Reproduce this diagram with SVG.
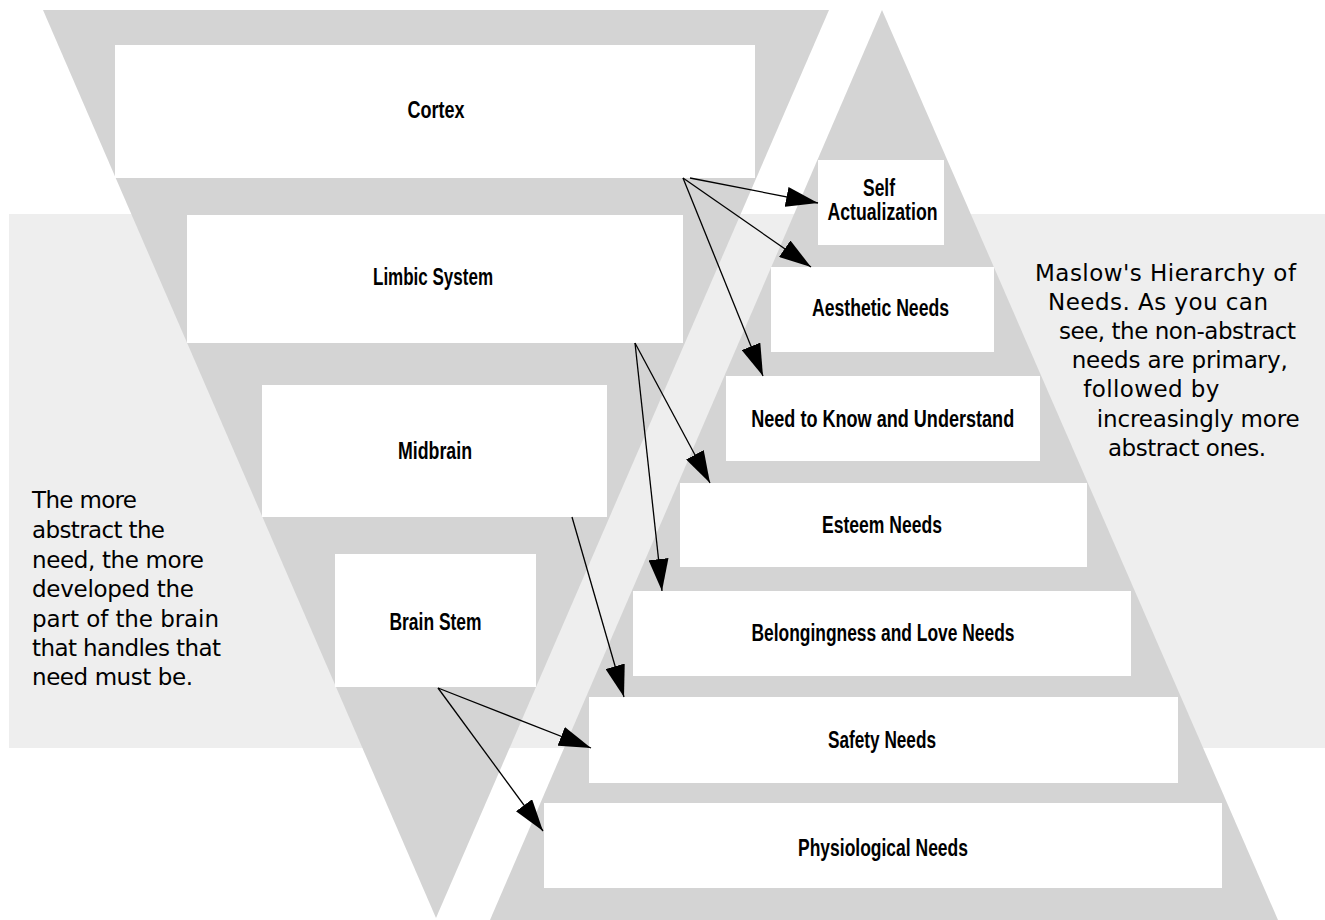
<svg xmlns="http://www.w3.org/2000/svg" width="1325" height="920" viewBox="0 0 1325 920">
<style>
.band{fill:#eeeeee}
.tri{fill:#d4d4d4}
.box{fill:#ffffff}
.lbl{font-family:"Liberation Sans",Arial,sans-serif;font-weight:bold;font-size:23px;fill:#000;text-anchor:middle}
.note{font-family:"DejaVu Sans","Liberation Sans",sans-serif;font-size:23px;fill:#000}
.conn line{stroke:#000;stroke-width:1.3;fill:none;marker-end:url(#ah)}
</style>
<defs>
<marker id="ah" markerUnits="userSpaceOnUse" markerWidth="34" markerHeight="20" refX="32" refY="10" orient="auto">
<path d="M0,0 L32,10 L0,20 Z" fill="#000"/>
</marker>
</defs>
<rect width="1325" height="920" fill="#ffffff"/>
<rect class="band" x="9" y="214" width="1316" height="534"/>
<polygon class="tri" points="43,10 829,10 436,918"/>
<polygon class="tri" points="882,10 1278,920 490,920"/>

<g id="cortex"><rect class="box" x="115" y="45" width="640" height="133"/><text class="lbl" x="436" y="118" textLength="57" lengthAdjust="spacingAndGlyphs">Cortex</text></g>
<g id="limbic"><rect class="box" x="187" y="215" width="496" height="128"/><text class="lbl" x="433" y="285" textLength="120" lengthAdjust="spacingAndGlyphs">Limbic System</text></g>
<g id="midbrain"><rect class="box" x="262" y="385" width="345" height="132"/><text class="lbl" x="435" y="459" textLength="74" lengthAdjust="spacingAndGlyphs">Midbrain</text></g>
<g id="brainstem"><rect class="box" x="335" y="554" width="201" height="133"/><text class="lbl" x="435.5" y="630" textLength="92" lengthAdjust="spacingAndGlyphs">Brain Stem</text></g>

<g id="self"><rect class="box" x="818" y="160" width="126" height="85"/><text class="lbl" x="879" y="196" textLength="32" lengthAdjust="spacingAndGlyphs">Self</text><text class="lbl" x="882.5" y="220" textLength="110" lengthAdjust="spacingAndGlyphs">Actualization</text></g>
<g id="aesthetic"><rect class="box" x="771" y="267" width="223" height="85"/><text class="lbl" x="880.5" y="316" textLength="137" lengthAdjust="spacingAndGlyphs">Aesthetic Needs</text></g>
<g id="know"><rect class="box" x="726" y="376" width="314" height="85"/><text class="lbl" x="882.7" y="427" textLength="263" lengthAdjust="spacingAndGlyphs">Need to Know and Understand</text></g>
<g id="esteem"><rect class="box" x="680" y="483" width="407" height="84"/><text class="lbl" x="882" y="533" textLength="120" lengthAdjust="spacingAndGlyphs">Esteem Needs</text></g>
<g id="belong"><rect class="box" x="633" y="591" width="498" height="85"/><text class="lbl" x="883" y="641" textLength="263" lengthAdjust="spacingAndGlyphs">Belongingness and Love Needs</text></g>
<g id="safety"><rect class="box" x="589" y="697" width="589" height="86"/><text class="lbl" x="882" y="748" textLength="108" lengthAdjust="spacingAndGlyphs">Safety Needs</text></g>
<g id="physio"><rect class="box" x="544" y="803" width="678" height="85"/><text class="lbl" x="883" y="856" textLength="170" lengthAdjust="spacingAndGlyphs">Physiological Needs</text></g>

<g id="connectors" class="conn">
<line x1="690" y1="178" x2="818" y2="203"/>
<line x1="683" y1="178" x2="811" y2="267"/>
<line x1="683" y1="178" x2="763" y2="376"/>
<line x1="635" y1="343" x2="710" y2="483"/>
<line x1="635" y1="343" x2="662" y2="591"/>
<line x1="572" y1="517" x2="624" y2="697"/>
<line x1="438" y1="688" x2="591" y2="748"/>
<line x1="438" y1="688" x2="543" y2="831"/>
</g>

<g id="note-left">
<text class="note" x="32" y="508" textLength="105">The more</text>
<text class="note" x="32" y="538" textLength="133">abstract the</text>
<text class="note" x="32" y="567.5" textLength="172">need, the more</text>
<text class="note" x="32" y="597" textLength="162">developed the</text>
<text class="note" x="32" y="626.5" textLength="187">part of the brain</text>
<text class="note" x="32" y="656" textLength="189">that handles that</text>
<text class="note" x="32" y="685" textLength="161">need must be.</text>
</g>
<g id="note-right">
<text class="note" x="1035" y="280.5" textLength="261">Maslow's Hierarchy of</text>
<text class="note" x="1048" y="310" textLength="220">Needs. As you can</text>
<text class="note" x="1059" y="339.3" textLength="237">see, the non-abstract</text>
<text class="note" x="1071.7" y="368.3" textLength="216">needs are primary,</text>
<text class="note" x="1083.3" y="397.3" textLength="136">followed by</text>
<text class="note" x="1096.7" y="426.7" textLength="203">increasingly more</text>
<text class="note" x="1108" y="456" textLength="158">abstract ones.</text>
</g>
</svg>
